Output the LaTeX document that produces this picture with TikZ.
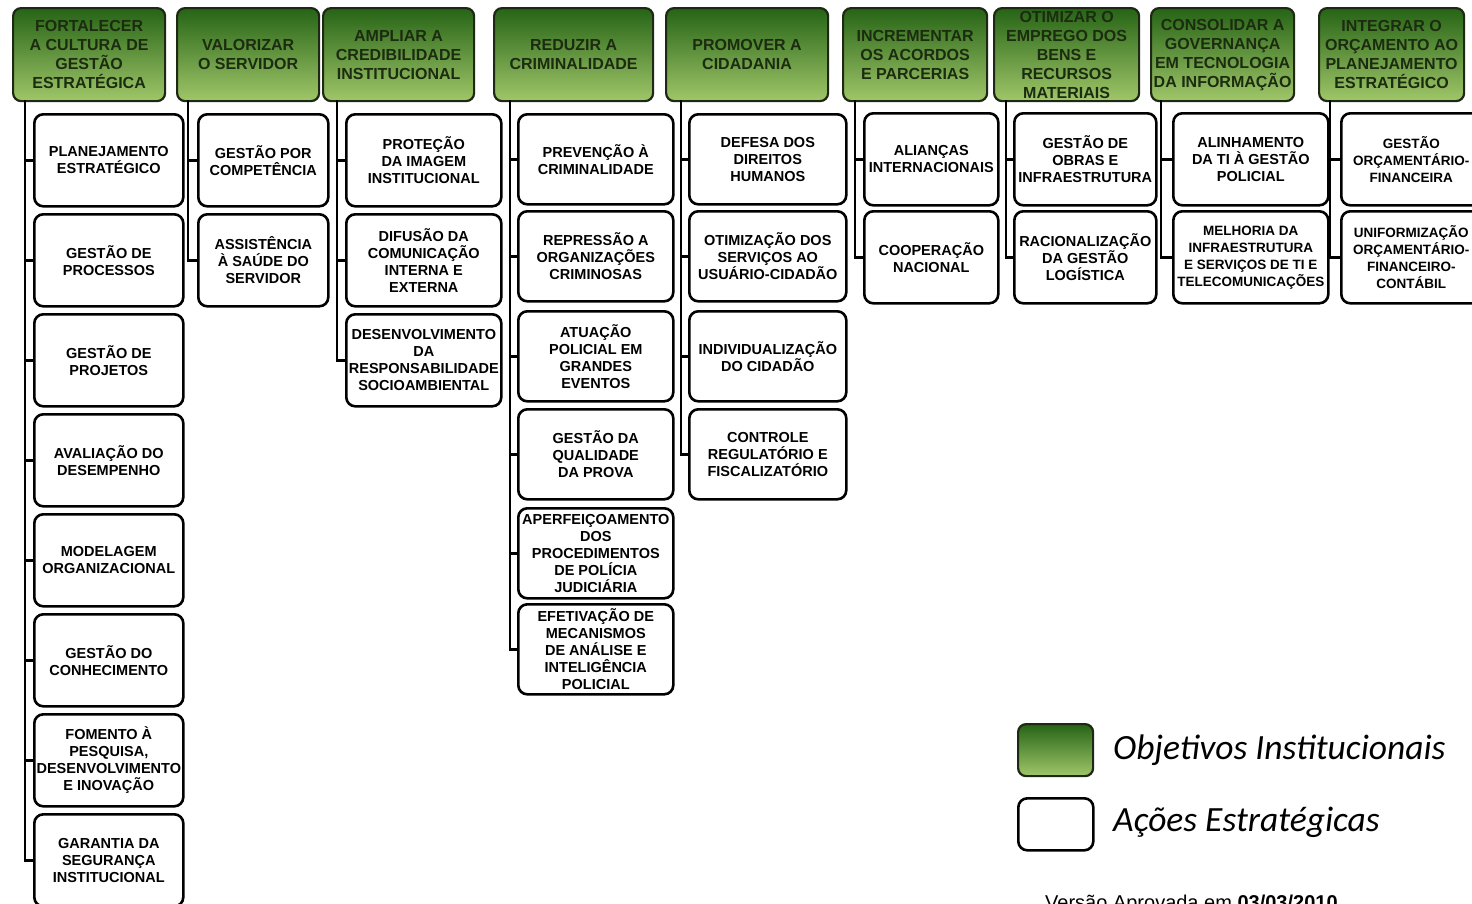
\documentclass[tikz,border=0pt]{standalone}
\usepackage{fontspec}
\setmainfont{Liberation Sans}
\newfontfamily\legfont{Carlito}
\definecolor{hdrtop}{RGB}{38,100,22}
\definecolor{hdrbot}{RGB}{160,198,105}
\definecolor{hdrtext}{RGB}{28,44,16}
\definecolor{hdrline}{RGB}{30,40,20}
\tikzset{
  hdr/.style={draw=hdrline, line width=2.2pt, rounded corners=8pt, top color=hdrtop, bottom color=hdrbot,
    anchor=north west, minimum height=93pt, inner sep=1pt, align=center,
    font=\bfseries\fontsize{16}{19}\selectfont, text=hdrtext},
  act/.style={draw=black, line width=2.6pt, rounded corners=9pt, fill=white,
    anchor=north west, minimum height=92pt, inner sep=1pt, align=center,
    font=\bfseries\fontsize{14.5}{17}\selectfont},
  smallact/.style={act, font=\bfseries\fontsize{13.5}{17}\selectfont},
  conn/.style={line width=2.8pt, black},
  leg/.style={anchor=west, inner sep=0pt, font=\legfont\itshape\fontsize{35.5}{40}\selectfont}
}
\begin{document}
\begin{tikzpicture}[x=1pt,y=-1pt]
\useasboundingbox (0,0) rectangle (1472,903);
\clip (0,0) rectangle (1472,903);
\fill[white] (0,0) rectangle (1472,903);

% headers
\node[hdr, minimum width=152pt] (h1) at (12,7) {FORTALECER\\A CULTURA DE\\GESTÃO\\ESTRATÉGICA};
\node[hdr, minimum width=142pt] (h2) at (176,7) {VALORIZAR\\O SERVIDOR};
\node[hdr, minimum width=151pt] (h3) at (322,7) {AMPLIAR A\\CREDIBILIDADE\\INSTITUCIONAL};
\node[hdr, minimum width=159pt] (h4) at (493,7) {REDUZIR A\\CRIMINALIDADE};
\node[hdr, minimum width=162pt] (h5) at (665,7) {PROMOVER A\\CIDADANIA};
\node[hdr, minimum width=144pt] (h6) at (842,7) {INCREMENTAR\\OS ACORDOS\\E PARCERIAS};
\node[hdr, minimum width=145pt] (h7) at (993,7) {OTIMIZAR O\\EMPREGO DOS\\BENS E\\RECURSOS\\MATERIAIS};
\node[hdr, minimum width=143pt] (h8) at (1150,7) {CONSOLIDAR A\\GOVERNANÇA\\EM TECNOLOGIA\\DA INFORMAÇÃO};
\node[hdr, minimum width=145pt] (h9) at (1318,7) {INTEGRAR O\\ORÇAMENTO AO\\PLANEJAMENTO\\ESTRATÉGICO};

% trunk starting points
\coordinate (t1) at (25,100);
\coordinate (t2) at (188,100);
\coordinate (t3) at (337,100);
\coordinate (t4) at (510,100);
\coordinate (t5) at (681,100);
\coordinate (t6) at (855,100);
\coordinate (t7) at (1006,100);
\coordinate (t8) at (1161,100);
\coordinate (t9) at (1330,100);

% column 1
\node[act, minimum width=149pt] (a11) at (33,113) {PLANEJAMENTO\\ESTRATÉGICO};
\node[act, minimum width=149pt] (a12) at (33,213) {GESTÃO DE\\PROCESSOS};
\node[act, minimum width=149pt] (a13) at (33,313) {GESTÃO DE\\PROJETOS};
\node[act, minimum width=149pt] (a14) at (33,413) {AVALIAÇÃO DO\\DESEMPENHO};
\node[act, minimum width=149pt] (a15) at (33,513) {MODELAGEM\\ORGANIZACIONAL};
\node[act, minimum width=149pt] (a16) at (33,613) {GESTÃO DO\\CONHECIMENTO};
\node[act, minimum width=149pt] (a17) at (33,713) {FOMENTO À\\PESQUISA,\\DESENVOLVIMENTO\\E INOVAÇÃO};
\node[act, minimum width=149pt] (a18) at (33,813) {GARANTIA DA\\SEGURANÇA\\INSTITUCIONAL};

% column 2
\node[act, minimum width=130pt] (a21) at (197,113) {GESTÃO POR\\COMPETÊNCIA};
\node[act, minimum width=130pt] (a22) at (197,213) {ASSISTÊNCIA\\À SAÚDE DO\\SERVIDOR};

% column 3
\node[act, minimum width=155pt] (a31) at (345,113) {PROTEÇÃO\\DA IMAGEM\\INSTITUCIONAL};
\node[act, minimum width=155pt] (a32) at (345,213) {DIFUSÃO DA\\COMUNICAÇÃO\\INTERNA E\\EXTERNA};
\node[act, minimum width=155pt] (a33) at (345,313) {DESENVOLVIMENTO\\DA\\RESPONSABILIDADE\\SOCIOAMBIENTAL};

% column 4
\node[act, minimum width=155pt, minimum height=90pt] (a41) at (517,113) {PREVENÇÃO À\\CRIMINALIDADE};
\node[act, minimum width=155pt, minimum height=90pt] (a42) at (517,210) {REPRESSÃO A\\ORGANIZAÇÕES\\CRIMINOSAS};
\node[act, minimum width=155pt, minimum height=90pt] (a43) at (517,310) {ATUAÇÃO\\POLICIAL EM\\GRANDES\\EVENTOS};
\node[act, minimum width=155pt, minimum height=90pt] (a44) at (517,408) {GESTÃO DA\\QUALIDADE\\DA PROVA};
\node[act, minimum width=155pt, minimum height=90pt] (a45) at (517,507) {APERFEIÇOAMENTO\\DOS\\PROCEDIMENTOS\\DE POLÍCIA\\JUDICIÁRIA};
\node[act, minimum width=155pt, minimum height=90pt] (a46) at (517,603) {EFETIVAÇÃO DE\\MECANISMOS\\DE ANÁLISE E\\INTELIGÊNCIA\\POLICIAL};

% column 5
\node[act, minimum width=157pt, minimum height=90pt] (a51) at (688,113) {DEFESA DOS\\DIREITOS\\HUMANOS};
\node[act, minimum width=157pt, minimum height=90pt] (a52) at (688,210) {OTIMIZAÇÃO DOS\\SERVIÇOS AO\\USUÁRIO-CIDADÃO};
\node[act, minimum width=157pt, minimum height=90pt] (a53) at (688,310) {INDIVIDUALIZAÇÃO\\DO CIDADÃO};
\node[act, minimum width=157pt, minimum height=90pt] (a54) at (688,408) {CONTROLE\\REGULATÓRIO E\\FISCALIZATÓRIO};

% column 6
\node[act, minimum width=134pt] (a61) at (863,112) {ALIANÇAS\\INTERNACIONAIS};
\node[act, minimum width=134pt] (a62) at (863,210) {COOPERAÇÃO\\NACIONAL};

% column 7
\node[act, minimum width=142pt] (a71) at (1013,112) {GESTÃO DE\\OBRAS E\\INFRAESTRUTURA};
\node[act, minimum width=142pt] (a72) at (1013,210) {RACIONALIZAÇÃO\\DA GESTÃO\\LOGÍSTICA};

% column 8
\node[act, minimum width=155pt] (a81) at (1172,112) {ALINHAMENTO\\DA TI À GESTÃO\\POLICIAL};
\node[smallact, minimum width=155pt] (a82) at (1172,210) {MELHORIA DA\\INFRAESTRUTURA\\E SERVIÇOS DE TI E\\TELECOMUNICAÇÕES};

% column 9
\node[smallact, minimum width=140pt] (a91) at (1340,112) {GESTÃO\\ORÇAMENTÁRIO-\\FINANCEIRA};
\node[smallact, minimum width=140pt] (a92) at (1340,210) {UNIFORMIZAÇÃO\\ORÇAMENTÁRIO-\\FINANCEIRO-\\CONTÁBIL};

% connectors
\foreach \b in {a11,a12,a13,a14,a15,a16,a17,a18} \draw[conn] (t1) |- (\b.west);
\foreach \b in {a21,a22} \draw[conn] (t2) |- (\b.west);
\foreach \b in {a31,a32,a33} \draw[conn] (t3) |- (\b.west);
\foreach \b in {a41,a42,a43,a44,a45,a46} \draw[conn] (t4) |- (\b.west);
\foreach \b in {a51,a52,a53,a54} \draw[conn] (t5) |- (\b.west);
\foreach \b in {a61,a62} \draw[conn] (t6) |- (\b.west);
\foreach \b in {a71,a72} \draw[conn] (t7) |- (\b.west);
\foreach \b in {a81,a82} \draw[conn] (t8) |- (\b.west);
\foreach \b in {a91,a92} \draw[conn] (t9) |- (\b.west);

% legend
\node[hdr, minimum width=75pt, minimum height=52pt] (lg1) at (1017,723) {};
\node[act, minimum width=75pt, minimum height=52pt] (lg2) at (1017,797) {};
\node[leg] (lt1) at (1113,750) {Objetivos Institucionais};
\node[leg] (lt2) at (1113,822) {Ações Estratégicas};

\node[anchor=north west, inner sep=0pt, font=\fontsize{20}{24}\selectfont] (ver) at (1045,895) {Versão Aprovada em \textbf{03/03/2010}};
\end{tikzpicture}
\end{document}
